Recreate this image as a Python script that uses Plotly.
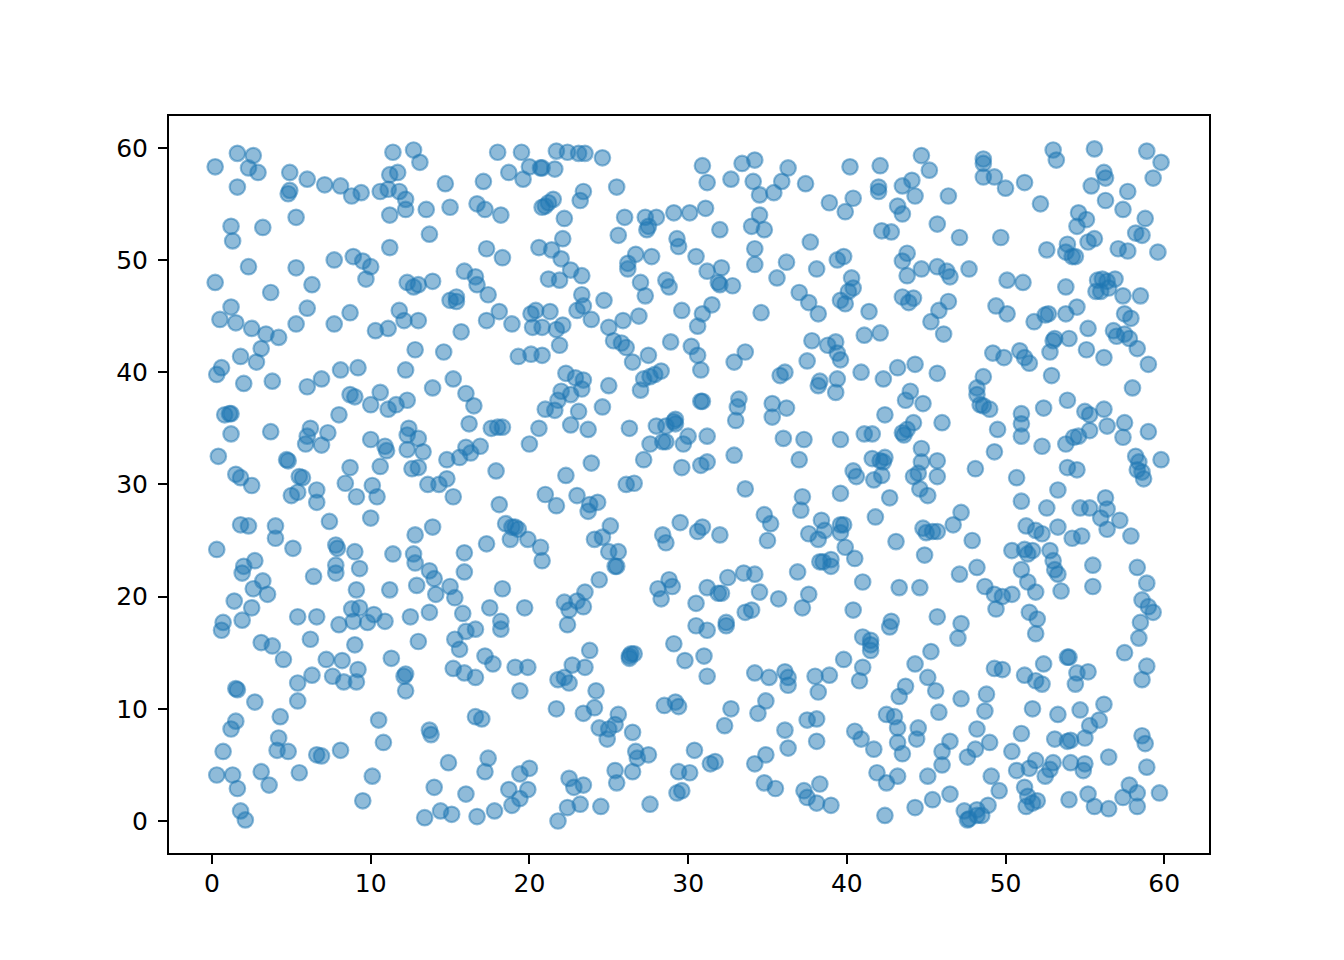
import plotly.graph_objects as go

x_ticks = [0, 10, 20, 30, 40, 50, 60]
y_ticks = [0, 10, 20, 30, 40, 50, 60]

band_00_05 = [(0.2,58.3),(1.6,59.5),(2.6,59.3),(2.3,58.2),(2.9,57.8),(1.6,56.5),(1.2,53),(3.2,52.9),(1.3,51.7),(2.3,49.4),(0.2,48),(3.7,47.1),(1.2,45.8),(0.5,44.7),(1.5,44.4),(2.5,43.9),(3.4,43.4),(4.2,43.1),(3.1,42.1),(1.8,41.4),(2.8,40.9),(0.6,40.4),(0.3,39.8),(2,39),(3.8,39.2),(0.8,36.2),(1.1,36.3),(1.2,36.3),(1.2,34.5),(3.7,34.7),(0.4,32.5),(1.5,30.9),(1.8,30.6),(2.5,29.9),(1.8,26.4),(2.3,26.3),(4,26.3),(4,25.2),(0.3,24.2),(2,22.7),(1.9,22.1),(2.7,23.2),(3.2,21.4),(2.6,20.7),(3.5,20.2),(1.4,19.6),(2.5,19),(1.9,17.9),(0.7,17.7),(0.6,17),(3.1,15.9),(3.8,15.6),(4.5,14.4),(1.5,11.8),(1.6,11.7),(2.7,10.6),(1.5,8.9),(1.2,8.2),(4.3,9.3),(0.7,6.2),(4.2,7.4),(4.1,6.3),(0.3,4.1),(1.3,4.1),(3.1,4.4),(1.6,2.9),(3.6,3.2),(1.8,0.9),(2.1,0.1)]
band_05_10 = [(4.9,57.8),(4.8,55.9),(4.9,56.2),(6,57.2),(7.1,56.7),(8.1,56.6),(8.8,55.7),(9.4,56),(5.3,53.8),(5.3,49.3),(8.9,50.3),(9.5,49.9),(10,49.4),(9.7,48.3),(7.7,50),(6.3,47.8),(6,45.7),(5.3,44.3),(7.7,44.3),(8.7,45.3),(6,38.7),(6.9,39.4),(8.1,40.2),(9.2,40.4),(8.7,38),(9,37.8),(8,36.2),(10,37.1),(6.2,35),(6,34.3),(5.9,33.6),(6.9,33.5),(7.3,34.6),(10,34),(4.7,32.2),(4.8,32.1),(5.5,30.7),(5.7,30.6),(8.7,31.5),(8.4,30.1),(5,29),(5.4,29.3),(6.6,29.5),(6.6,28.4),(9.1,28.9),(10.1,29.9),(7.4,26.7),(10,27),(7.8,24.6),(7.9,24.3),(9,24),(5.1,24.3),(6.4,21.8),(7.8,22.8),(7.8,22.1),(9.3,22.5),(9.1,20.6),(5.4,18.2),(6.6,18.2),(8,17.5),(8.8,18.9),(8.9,17.8),(9.3,19),(9.8,17.7),(6.2,16.2),(9,15.7),(7.2,14.4),(8.2,14.3),(6.3,13),(7.6,12.9),(9.2,13.5),(8.3,12.4),(9.1,12.4),(5.4,12.3),(5.4,10.7),(6.6,5.9),(6.9,5.8),(8.1,6.3),(4.8,6.2),(5.5,4.3),(9.5,1.8)]
band_10_15 = [(11.4,59.6),(12.7,59.8),(13.1,58.7),(11.2,57.6),(11.7,57.8),(10.6,56.1),(11.1,56.3),(11.8,56.1),(12.2,55.4),(12.2,54.5),(11.2,54),(13.5,54.5),(14.7,56.8),(15,54.7),(13.7,52.3),(11.2,51.1),(12.3,48),(12.7,47.6),(13,47.8),(13.9,48.1),(11.8,45.5),(12.1,44.6),(13,44.6),(10.3,43.7),(11.1,43.9),(12.8,42),(14.6,41.8),(12.2,40.2),(10.6,38.2),(13.9,38.6),(11.1,36.7),(11.6,37.1),(12.3,37.5),(12.3,34.4),(12.4,35),(13,34.1),(10.9,33.4),(11,33),(12.3,33.1),(13.3,32.9),(14.8,32.2),(10.6,31.6),(12.6,31.4),(13,31.5),(10.4,28.9),(13.6,30),(14.3,30),(14.8,30.5),(15.2,28.9),(12.8,25.5),(13.9,26.2),(11.4,23.8),(12.7,23.8),(12.8,23),(13.7,22.3),(14,21.6),(12.9,21),(15,20.9),(11.2,20.6),(14.1,20.2),(12.5,18.2),(13.7,18.6),(10.2,18.4),(10.9,17.8),(13,16),(11.3,14.5),(12.2,13.1),(12.1,12.9),(12.2,11.6),(10.5,9),(10.8,7),(13.7,8.1),(13.8,7.7),(10.1,4),(14.9,5.2),(14,3),(14.4,0.9),(13.4,0.3),(15.1,0.6)]
band_15_20 = [(16.7,55),(17.2,54.5),(17.1,57),(18,59.6),(18.7,57.8),(19.5,59.6),(19.6,57.2),(20,58.3),(18.2,54),(17.3,51),(18.3,50.2),(15.9,49),(16.6,48.5),(16.7,47.8),(15,46.4),(15.4,46.7),(15.4,46.3),(17.4,46.9),(18.1,45.4),(17.3,44.6),(18.9,44.3),(15.7,43.6),(19.3,41.4),(20.1,41.6),(15.2,39.4),(16,38.1),(16.5,37),(16.2,35.4),(17.6,35),(18,35.1),(18.3,35.1),(16,33.3),(15.6,32.4),(16.3,32.8),(16.9,33.4),(17.9,31.2),(18.1,28.2),(18.5,26.5),(18.9,26.2),(19.1,26.2),(19.3,26),(19.9,25.1),(18.8,25.1),(17.3,24.7),(15.9,23.9),(15.9,22.2),(15.3,19.9),(15.8,18.5),(18.3,20.7),(17.5,19),(18.2,17.8),(18.2,17.1),(19.7,19),(16,16.9),(16.6,17.1),(15.3,16.2),(15.6,15.3),(17.2,14.7),(17.7,14),(19.1,13.7),(19.9,13.7),(15.2,13.6),(15.9,13.2),(16.6,12.8),(19.4,11.6),(16.6,9.3),(17,9.1),(17.4,5.6),(17.2,4.4),(19.4,4.2),(20,4.7),(18.7,2.8),(19.9,2.8),(19.4,2),(18.9,1.4),(16,2.4),(17.8,0.9),(16.7,0.4)]
band_20_25 = [(20.7,58.2),(20.8,58.2),(21.6,58.1),(21.7,59.7),(22.4,59.6),(23.1,59.5),(23.5,59.5),(24.6,59.1),(23.4,56.1),(23.2,55.3),(21,54.8),(21.2,55.1),(21.5,55.4),(20.8,54.7),(22.2,53.7),(22.1,51.9),(20.6,51.1),(21.4,50.9),(22,50.1),(22.6,49.1),(23.3,48.6),(21.2,48.3),(21.9,48.2),(23.3,46.9),(23.4,45.9),(23,45.5),(24.7,46.4),(20.1,45.2),(20.4,45.5),(21.3,45.4),(23.9,44.7),(20.2,44),(20.8,44),(21.7,43.8),(22.1,44.2),(21.9,42.4),(20.8,41.5),(25,44),(22.3,39.9),(22.9,39.5),(23.4,39.3),(22,38.3),(22.6,38),(23.3,38.5),(21.8,37.5),(24.6,36.9),(21,36.7),(21.6,36.6),(23.1,36.5),(20.6,35),(22.6,35.3),(23.7,34.9),(20,33.6),(23.9,31.9),(22.3,30.8),(21,29.1),(23,29),(23.8,28.2),(24.3,28.4),(21.7,28.1),(23.7,27.6),(25.1,26.3),(20.7,24.4),(24.1,25.1),(24.6,25.3),(25,24),(25.6,24),(25.4,22.7),(25.5,22.7),(20.8,23.2),(24.4,21.5),(23.5,20.4),(22.2,19.5),(22.5,18.8),(23,19.6),(23.4,19.1),(22.4,17.5),(23.8,15.2),(22.7,13.9),(23.5,13.7),(21.8,12.6),(22.2,12.8),(22.5,12.3),(24.2,11.6),(21.7,10),(23.4,9.6),(24.1,10.1),(24.4,8.3),(25,8.2),(24.9,7.3),(25.4,8.6),(25.6,9.5),(25.4,4.5),(22.5,3.8),(22.8,3),(23.4,3.2),(22.4,1.2),(23.2,1.5),(24.5,1.3),(21.8,0)]
band_25_30 = [(25.5,56.5),(26,53.8),(25.6,52.2),(27.3,53.8),(28,53.8),(27.5,53),(27.4,52.7),(29.1,54.2),(29.3,51.9),(29.4,51.2),(26.7,50.5),(27.7,50.3),(26.2,49.7),(26.2,49.2),(27,48),(28.6,48.2),(28.8,47.6),(27.3,46.8),(29.6,45.5),(25.9,44.6),(26.9,45),(26.1,42.2),(25.3,42.8),(25.8,42.6),(28.9,42.7),(26.5,40.9),(27.5,41.5),(27,38.4),(27.2,39.4),(27.6,39.6),(27.9,39.8),(28.3,40.1),(25,38.8),(26.3,35),(28,35.2),(28.6,35.2),(29.2,35.4),(29.2,35.8),(29.1,35.6),(27.6,33.6),(28.4,33.8),(28.6,33.8),(29.7,33.6),(30,34.3),(27.2,32.2),(29.6,31.5),(26.1,30),(26.6,30.1),(29.5,26.6),(28.4,25.5),(28.6,24.8),(28.8,21.5),(28.1,20.7),(28.3,19.8),(29,20.9),(29.1,15.8),(29.8,14.3),(26.3,14.7),(26.4,14.9),(26.3,14.5),(26.6,14.9),(28.5,10.3),(29.2,10.6),(29.4,10.2),(26.5,7.9),(26.7,6.2),(26.8,5.6),(27.5,5.9),(26.5,4.4),(29.4,4.4),(25.5,3.4),(29.3,2.5),(29.6,2.7),(27.6,1.5),(30.1,4.3)]
band_30_35 = [(30.1,54.2),(31.2,56.9),(30.9,58.4),(31.1,54.6),(32.7,57.2),(33.4,58.6),(34.2,58.9),(34.1,57),(34.5,55.8),(34,53),(34.5,54),(34.8,52.7),(32,52.7),(30.5,50.3),(31.2,49),(32.1,49.3),(31.9,48),(32,47.8),(32.8,47.7),(34.2,51),(34.2,49.6),(30.9,45.2),(31.5,46),(30.6,44.1),(30.2,42.3),(30.6,41.5),(33.6,41.8),(34.6,45.3),(32.9,40.9),(30.8,40.2),(30.9,37.4),(30.8,37.4),(33.2,37.6),(33.1,36.9),(33,35.7),(31.2,34.3),(31.2,32),(30.8,31.7),(32.9,32.6),(33.6,29.6),(30.6,25.8),(30.9,26.2),(32,25.5),(34.8,27.3),(35.2,26.5),(35,25),(32.5,21.7),(31.2,20.8),(31.9,20.3),(32.1,20.3),(33.5,22.1),(34.2,22),(34.5,20.4),(33.6,18.6),(34,18.8),(30.5,19.4),(30.5,17.4),(31.2,17),(32.4,17.7),(32.4,17.4),(31,14.7),(31.2,12.9),(34.2,13.2),(35.1,12.8),(32.7,10),(34.4,9.6),(34.9,10.7),(32.3,8.5),(30.4,6.3),(31.4,5.1),(31.7,5.3),(34.2,5.1),(34.9,5.9),(34.8,3.4)]
band_35_40 = [(36.3,58.2),(35.9,57),(35.4,56),(36.2,49.8),(35.6,48.4),(37,47.1),(37.6,46.2),(38.2,45.2),(37.7,51.6),(38.1,49.2),(37.4,56.8),(38.9,55.1),(39.4,50),(39.8,50.3),(39.6,46.4),(39.9,46.1),(40.1,47.2),(40.3,48.4),(39.9,54.3),(37.8,42.8),(38.8,42.4),(39.3,42.7),(39.4,41.7),(39.6,41.1),(37.5,41),(38.3,39.2),(38.2,38.8),(39.3,38.2),(39.4,39.4),(35.8,39.7),(36.1,40),(35.3,37.2),(35.3,36),(36.2,36.8),(36,34.1),(37.3,34),(39.6,34),(37,32.2),(37.2,28.9),(37.1,27.7),(39.6,29.2),(37.6,25.6),(38.2,25.1),(38.4,26.8),(38.6,25.9),(39.6,25.7),(39.6,26.4),(39.8,26.4),(39.9,24.4),(38.3,23.1),(38.5,23.1),(39,22.7),(39,23.3),(36.9,22.2),(35.7,19.8),(37.6,20.2),(37.2,19),(36.1,13.3),(36.3,12.8),(36.3,12.1),(38,12.9),(38.2,11.5),(38.9,13),(39.8,14.4),(37.5,9),(38.1,9.1),(36.1,8.1),(36.3,6.5),(38.1,7.1),(35.5,2.9),(37.3,2.7),(37.5,2.1),(38.1,1.6),(38.3,3.3),(39,1.4)]
band_40_45 = [(40.2,58.3),(40.4,55.5),(42.1,58.4),(42,56.5),(42,56.1),(43.5,56.6),(44.1,57.1),(44.7,59.3),(44.3,55.7),(45.2,58),(43.2,54.8),(43.5,54.1),(42.2,52.6),(42.8,52.5),(43.5,49.9),(43.8,50.6),(43.8,48.6),(44.7,49.2),(40.4,47.5),(43.5,46.7),(43.9,46.2),(44.2,46.6),(41.4,45.4),(41.1,43.3),(42.1,43.5),(40.9,40),(43.2,40.4),(44.3,40.7),(42.3,39.4),(44,38.3),(43.7,37.5),(44.8,37.2),(42.4,36.2),(41.1,34.5),(41.6,34.5),(43.5,34.6),(43.6,34.4),(43.8,34.9),(44.2,35.5),(44.7,33.2),(44.7,32),(41.6,32.3),(42.1,32.1),(42.4,32.4),(42.3,32),(40.4,31.2),(40.6,30.7),(41.7,30.4),(42.2,30.8),(44.5,31),(44.2,30.7),(44.6,29.6),(42.7,28.8),(41.8,27.1),(44.8,26.1),(45,25.7),(43.1,24.9),(44.9,23.7),(40.5,23.4),(41,21.3),(43.3,20.8),(44.6,20.8),(40.4,18.8),(41,16.4),(41.5,16.1),(41.5,15.7),(41.5,15.2),(42.8,17.8),(42.7,17.3),(41,13.7),(40.8,12.5),(44.3,14),(43.3,11.1),(43.7,12),(42.5,9.5),(43,9.3),(43.2,8.3),(44.5,8.3),(43.2,7),(44.4,7.3),(43.5,6),(40.5,8),(40.9,7.3),(41.7,6.4),(41.9,4.3),(43.2,4),(42.5,3.4),(44.3,1.2),(42.4,0.5)]
band_45_50 = [(45.7,53.2),(46.4,55.7),(47.1,52),(45.7,49.4),(46.3,49),(46.5,48.5),(47.7,49.2),(46.4,46.3),(45.8,45.5),(45.3,44.5),(46.1,43.4),(45.7,39.9),(48.6,58.6),(48.6,59),(48.6,57.4),(49.3,57.4),(50,56.4),(49.7,52),(49.4,45.9),(50.1,45.2),(50.1,48.2),(49.2,41.7),(49.9,41.3),(48.2,38.6),(48.2,38),(48.6,39.6),(48.4,37.1),(48.6,37),(49,36.7),(46,35.5),(45.7,32.1),(45.7,30.7),(45.1,29),(48.1,31.4),(49.3,32.9),(49.5,34.9),(47.2,27.5),(46.7,26.4),(45.4,25.8),(45.7,25.8),(47.9,25),(47.1,22),(48.2,22.6),(48.7,20.9),(49.3,20.2),(49.8,20),(49.4,18.9),(50.4,20.2),(47,16.3),(47.2,17.6),(45.7,18.2),(45.3,15.1),(45.1,12.8),(45.6,11.6),(47.2,10.9),(45.8,9.7),(48.8,11.3),(48.7,9.8),(49.3,13.6),(49.8,13.5),(48.2,8.2),(46.5,7.1),(46,6.2),(47.6,5.7),(48.1,6.4),(49,7),(46,5),(50.4,6.2),(49.1,4),(45.1,4),(49.6,2.7),(46.5,2.4),(45.4,1.9),(47.4,0.9),(48.2,1),(47.6,0.1),(47.7,0.2),(48.2,0.5),(48.5,0.5),(48.9,1.4)]
band_50_55 = [(51.2,56.9),(53,59.8),(53.2,58.9),(52.2,55),(54.6,54.2),(54.5,53),(55.1,53.6),(52.6,50.9),(53.9,51.4),(53.8,50.7),(54.2,50.3),(54.4,50.3),(55.2,51.6),(51.1,48),(53.8,47.6),(50.9,41.9),(51.2,41.3),(51.5,40.8),(51.8,44.5),(52.7,45.2),(52.5,45.1),(53.8,45.2),(54.5,45.8),(53.1,43),(53,42.8),(52.8,41.8),(54,43),(55.1,42),(55.2,43.9),(52.9,39.7),(53.9,37.5),(51,36.3),(51,35.4),(51,34.3),(52.4,36.8),(55,36.5),(55.3,36.2),(54.3,34.2),(54.6,34.3),(55.3,34.8),(53.8,33.6),(52.3,33.4),(53.9,31.5),(54.5,31.3),(50.7,30.6),(51,28.5),(53.3,29.5),(52.6,27.9),(54.7,27.9),(55.3,27.9),(51.3,26.3),(51.9,25.9),(52.3,25.6),(53.3,26.2),(54.2,25.2),(54.8,25.4),(50.4,24.1),(51.2,24.2),(51.7,24.1),(51.4,23.8),(52.8,24.1),(53,23.2),(53.1,22.4),(53.3,22),(51,22.4),(51.4,21.3),(51.9,20.4),(53.5,20.5),(51.5,18.6),(52,18),(51.9,16.7),(52.4,14),(51.2,13),(51.9,12.5),(52.3,12.2),(53.9,14.6),(54,14.6),(54.5,13.2),(55.2,13.3),(54.4,12.2),(51.7,10),(53.3,9.5),(54.7,9.9),(55.3,8.5),(53.1,7.3),(53.9,7.1),(54.1,7.2),(55,7.4),(51,7.8),(54.1,5.2),(54.9,4.5),(55,5.1),(52.8,4.6),(53,5.2),(52.5,4),(51.9,5.4),(51.5,4.7),(50.7,4.5),(51.2,3),(51.4,2.2),(51.3,1.3),(51.7,1.6),(52,1.8),(54,1.9),(55.2,2.4)]
band_55_60 = [(55.6,59.9),(56.2,57.8),(56.3,57.3),(55.4,56.6),(57.7,56.1),(56.3,55.3),(57.4,54.5),(58.8,53.7),(58.2,52.4),(58.6,52.2),(55.6,51.9),(57.7,50.8),(57.1,51),(59.6,50.7),(59.3,57.3),(59.8,58.7),(58.9,59.7),(55.8,48.2),(56.1,48.3),(56.4,48.1),(56.9,48.3),(55.7,47.2),(56,47.2),(56.5,47.5),(57.4,46.8),(58.5,46.8),(57.5,45.2),(57.9,44.8),(56.8,43.7),(57,43.2),(57.5,43.4),(57.8,43),(58.3,42.1),(56.2,41.3),(59,40.7),(58,38.6),(56.2,36.7),(56.4,35.2),(57.5,35.5),(57.4,34.2),(59,34.7),(58.2,32.5),(58.4,32),(58.3,31.3),(58.6,31.1),(58.7,30.5),(59.8,32.2),(56.3,28.8),(56.4,27.8),(57.2,26.8),(56,27),(56.4,26),(57.9,25.4),(55.5,22.8),(58.3,22.6),(55.5,20.9),(58.9,21.2),(58.6,19.7),(59,19.1),(59.3,18.6),(58.5,17.7),(58.4,16.3),(57.5,15),(58.9,13.8),(58.6,12.6),(55.9,9),(56.2,10.4),(58.6,7.6),(58.8,6.9),(56.5,5.7),(58.9,4.8),(57.8,3.2),(57.4,2.1),(58.3,2.5),(59.7,2.5),(55.6,1.3),(56.5,1.1),(58.3,1.3)]

bands = [band_00_05, band_05_10, band_10_15, band_15_20, band_20_25, band_25_30,
         band_30_35, band_35_40, band_40_45, band_45_50, band_50_55, band_55_60]
xs = [p[0] for b in bands for p in b]
ys = [p[1] for b in bands for p in b]

fig = go.Figure(go.Scatter(
    x=xs, y=ys, mode="markers", cliponaxis=False,
    marker=dict(size=15.5, color="rgba(31,119,180,0.5)",
                line=dict(color="rgba(31,119,180,0.5)", width=2.2)),
))

axis_style = dict(
    showgrid=False, zeroline=False, showline=True, mirror=True,
    linecolor="black", linewidth=2, ticks="outside", ticklen=9, tickwidth=2,
    tickcolor="black", tickfont=dict(family="DejaVu Sans", size=25, color="black"),
)
fig.update_xaxes(range=[-2.71, 62.82], tickvals=x_ticks, ticklabelstandoff=-2, **axis_style)
fig.update_yaxes(range=[-2.85, 62.83], tickvals=y_ticks, ticklabelstandoff=5, **axis_style)
fig.update_layout(
    width=1344, height=960, showlegend=False,
    plot_bgcolor="white", paper_bgcolor="white",
    margin=dict(l=161, r=143, t=108, b=115, pad=0),
)
fig.write_html("out.html")
